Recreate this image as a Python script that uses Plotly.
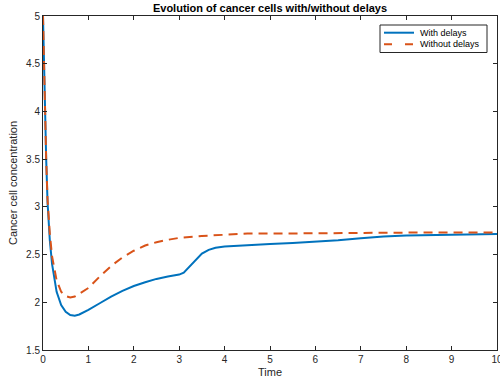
import plotly.graph_objects as go

# Simulated cancer cell concentration over time
t_with = [0, 0.02, 0.044, 0.07, 0.1, 0.15, 0.2, 0.25, 0.3, 0.4, 0.5, 0.6, 0.7, 0.8,
          1.0, 1.25, 1.5, 1.75, 2.0, 2.25, 2.5, 2.75, 3.0, 3.1, 3.2, 3.35, 3.5, 3.65,
          3.8, 4.0, 4.5, 5, 5.5, 6, 6.5, 7, 7.5, 8, 9, 10]
c_with = [5.0, 4.5, 4.0, 3.5, 3.05, 2.65, 2.40, 2.23, 2.11, 1.97, 1.90, 1.866, 1.86, 1.872,
          1.92, 1.99, 2.06, 2.12, 2.17, 2.21, 2.245, 2.27, 2.29, 2.31, 2.36, 2.44, 2.51, 2.55,
          2.572, 2.585, 2.60, 2.61, 2.622, 2.635, 2.65, 2.67, 2.69, 2.70, 2.71, 2.715]

t_without = [0, 0.02, 0.044, 0.07, 0.1, 0.15, 0.2, 0.25, 0.3, 0.4, 0.5, 0.6, 0.7, 0.8,
             1.0, 1.25, 1.5, 1.75, 2.0, 2.25, 2.5, 2.75, 3.0, 3.5, 4.0, 4.5, 5, 6, 7, 8, 9, 10]
c_without = [5.0, 4.5, 4.0, 3.5, 3.08, 2.72, 2.48, 2.34, 2.23, 2.11, 2.065, 2.05, 2.06, 2.09,
             2.15, 2.27, 2.38, 2.47, 2.54, 2.595, 2.63, 2.655, 2.675, 2.695, 2.71, 2.72, 2.72,
             2.725, 2.73, 2.73, 2.73, 2.73]

x_ticks = list(range(0, 11))
y_ticks = [1.5, 2, 2.5, 3, 3.5, 4, 4.5, 5]

series_names = ["With delays", "Without delays"]
series_colors = ["#0072BD", "#D95319"]

FONT = "Liberation Sans, Arial, Helvetica, sans-serif"
AXIS_COLOR = "#262626"

# plot-area geometry in pixels (used to place the legend box)
W, H = 500, 385
L, R, T, B = 43, 3, 16, 35
PW, PH = W - L - R, H - T - B


def px_x(p):
    return (p - L) / PW


def px_y(p):
    return 1 - (p - T) / PH


fig = go.Figure()
fig.add_trace(go.Scatter(
    x=t_with, y=c_with, mode="lines", name=series_names[0],
    line=dict(color=series_colors[0], width=2), showlegend=False,
))
fig.add_trace(go.Scatter(
    x=t_without, y=c_without, mode="lines", name=series_names[1],
    line=dict(color=series_colors[1], width=2, dash="9px,6px"), showlegend=False,
))

axis_common = dict(
    showline=True, linecolor=AXIS_COLOR, linewidth=1, mirror="ticks",
    ticks="inside", ticklen=4, tickcolor=AXIS_COLOR, tickwidth=1,
    showgrid=False, zeroline=False, automargin=False,
    tickfont=dict(family=FONT, size=10, color=AXIS_COLOR),
)

# compact boxed legend in the upper-right corner
shapes = [dict(
    type="rect", xref="paper", yref="paper",
    x0=px_x(380), x1=px_x(487), y0=px_y(25), y1=px_y(52.5),
    line=dict(color=AXIS_COLOR, width=1), fillcolor="white", layer="above",
)]
annotations = []
rows_y = [32.7, 44.3]
dashes = ["solid", "8px,13px"]
for name, color, ry, dsh in zip(series_names, series_colors, rows_y, dashes):
    shapes.append(dict(
        type="line", xref="paper", yref="paper",
        x0=px_x(384), x1=px_x(414), y0=px_y(ry), y1=px_y(ry),
        line=dict(color=color, width=2, dash=dsh), layer="above",
    ))
    annotations.append(dict(
        text=name, xref="paper", yref="paper", x=px_x(418), y=px_y(ry),
        xanchor="left", yanchor="middle", showarrow=False,
        font=dict(family=FONT, size=9, color="#000000"),
    ))

fig.update_layout(
    width=W, height=H,
    margin=dict(l=L, r=R, t=T, b=B, autoexpand=False),
    paper_bgcolor="white", plot_bgcolor="white",
    title=dict(
        text="<b>Evolution of cancer cells with/without delays</b>",
        font=dict(family=FONT, size=11, color="#000000"),
        x=(L + PW / 2) / W, xanchor="center", y=1 - 8 / H, yanchor="middle",
    ),
    xaxis=dict(
        range=[0, 10], tickvals=x_ticks, ticklabeloverflow="allow",
        title=dict(text="Time", font=dict(family=FONT, size=11, color=AXIS_COLOR), standoff=4),
        **axis_common,
    ),
    yaxis=dict(
        range=[1.5, 5], tickvals=y_ticks, ticktext=[f"{v:g}" for v in y_ticks],
        title=dict(text="Cancer cell concentration",
                   font=dict(family=FONT, size=11, color=AXIS_COLOR), standoff=6),
        **axis_common,
    ),
    shapes=shapes,
    annotations=annotations,
    showlegend=False,
)

fig.write_html("out.html")
